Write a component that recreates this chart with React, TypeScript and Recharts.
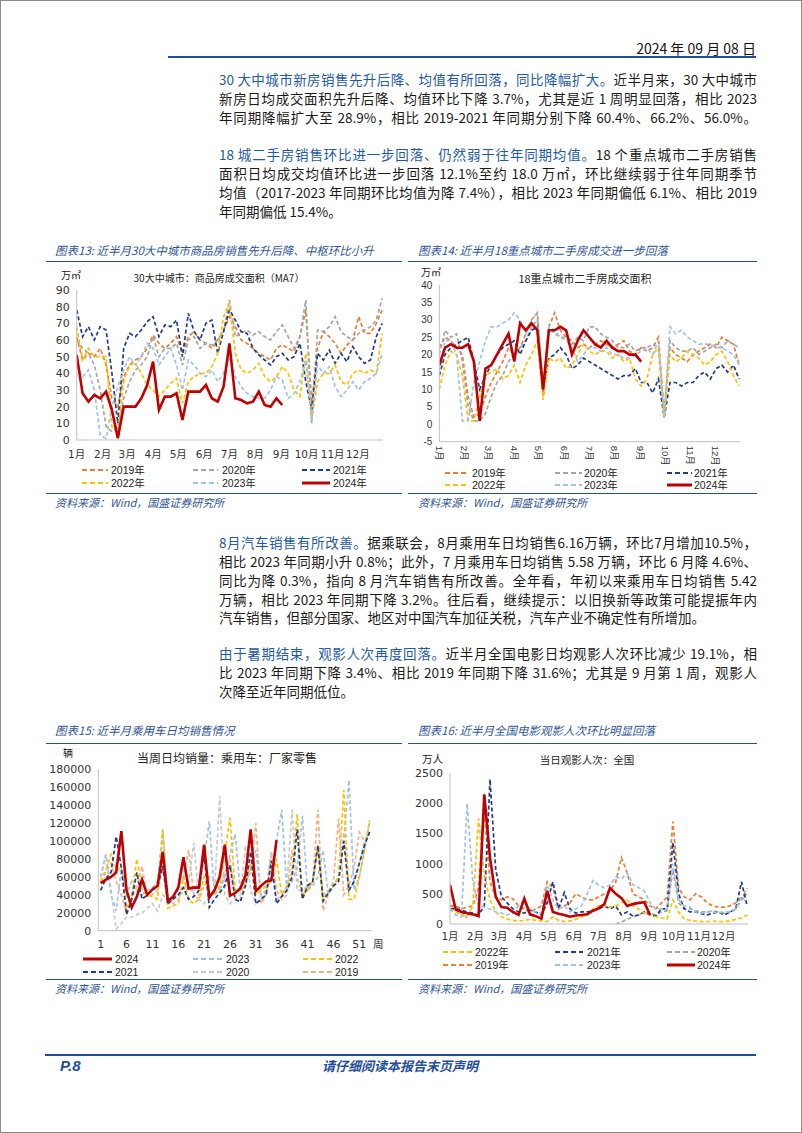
import React from "react";
import { LineChart, Line, XAxis, YAxis } from "recharts";

const CJK = '"Noto Sans CJK SC", "Noto Sans", sans-serif';
const NUM = '"DejaVu Sans", "Noto Sans CJK SC", sans-serif';
const ARIAL = '"Liberation Sans", "Noto Sans CJK SC", sans-serif';
const RULE = "#1F4E9A";
const TITLE_BLUE = "#2F5597";
const LEAD_BLUE = "#1F5AA6";

// ---------- axes ----------
const days = [
  0, 7, 14, 21, 28, 35, 42, 49, 56, 63, 70, 77, 84, 91, 98, 105, 112, 119, 126, 133,
  140, 147, 154, 161, 168, 175, 182, 189, 196, 203, 210, 217, 224, 231, 238, 245, 252,
  259, 266, 273, 280, 287, 294, 301, 308, 315, 322, 329, 336, 343, 350, 357, 364,
];
const weeks = [
  1, 2, 3, 4, 5, 6, 7, 8, 9, 10, 11, 12, 13, 14, 15, 16, 17, 18, 19, 20, 21, 22, 23, 24,
  25, 26, 27, 28, 29, 30, 31, 32, 33, 34, 35, 36, 37, 38, 39, 40, 41, 42, 43, 44, 45, 46,
  47, 48, 49, 50, 51, 52, 53,
];
const monthTicks = [0, 31, 60, 91, 121, 152, 182, 213, 244, 274, 305, 335];
const monthLabels = ["1月", "2月", "3月", "4月", "5月", "6月", "7月", "8月", "9月", "10月", "11月", "12月"];
const weekTicks = [1, 6, 11, 16, 21, 26, 31, 36, 41, 46, 51];

// ---------- 图表13: 30大中城市商品房成交面积 (万㎡, MA7) ----------
const newHome2019 = [62, 48, 52, 50, 55, 45, 25, 20, 38, 45, 48, 50, 55, 63, 58, 55, 58, 62, 52, 62, 65, 60, 58, 55, 60, 66, 74, 68, 60, 58, 55, 52, 50, 48, 55, 57, 55, 53, 62, 78, 22, 55, 65, 62, 58, 52, 57, 60, 74, 64, 64, 70, 78];
const newHome2020 = [60, 55, 52, 45, 30, 8, 5, 8, 25, 35, 42, 45, 50, 62, 50, 55, 55, 58, 45, 60, 62, 55, 58, 57, 60, 65, 84, 62, 64, 66, 63, 65, 62, 60, 65, 69, 62, 55, 62, 84, 10, 66, 65, 68, 74, 65, 62, 60, 64, 66, 68, 72, 85];
const newHome2021 = [78, 62, 68, 60, 68, 66, 40, 10, 55, 64, 62, 66, 71, 74, 62, 69, 68, 72, 50, 76, 65, 60, 70, 72, 52, 65, 78, 72, 65, 64, 55, 51, 48, 45, 50, 52, 48, 50, 58, 35, 18, 52, 48, 54, 46, 52, 47, 56, 50, 46, 48, 62, 70];
const newHome2022 = [68, 48, 55, 50, 50, 50, 8, 5, 35, 45, 46, 40, 33, 30, 26, 30, 34, 37, 22, 35, 38, 40, 40, 44, 52, 74, 82, 52, 42, 40, 42, 46, 38, 35, 38, 44, 40, 30, 26, 52, 12, 35, 40, 40, 45, 35, 33, 40, 42, 40, 42, 40, 64];
const newHome2023 = [45, 38, 42, 30, 3, 1, 20, 32, 42, 50, 45, 50, 58, 55, 45, 50, 55, 45, 30, 48, 45, 40, 38, 42, 35, 40, 50, 38, 32, 28, 26, 25, 25, 30, 38, 36, 25, 28, 35, 48, 12, 45, 40, 44, 32, 26, 30, 35, 30, 35, 37, 40, 52];
const newHome2024 = [51, 28, 23, 27, 25, 29, 18, 1, 20, 20, 20, 25, 33, 47, 18, 26, 26, 28, 12, 29, 29, 29, 33, 25, 23, 32, 58, 25, 24, 22, 23, 29, 21, 20, 25, 21];

// ---------- 图表14: 18重点城市二手房成交面积 (万㎡) ----------
const resale2019 = [22, 25, 24, 22, 20, 8, 2, 3, 8, 12, 15, 18, 22, 20, 22, 26, 30, 32, 8, 28, 32, 27, 25, 24, 22, 23, 22, 23, 24, 23, 22, 23, 24, 21, 20, 22, 21, 22, 25, 3, 22, 20, 19, 18, 20, 21, 22, 23, 22, 25, 24, 23, 17];
const resale2020 = [20, 27, 25, 26, 18, 5, 1, 1, 3, 8, 12, 14, 18, 20, 22, 24, 28, 30, 10, 28, 26, 25, 25, 23, 25, 24, 28, 28, 26, 25, 24, 22, 22, 23, 21, 22, 22, 23, 22, 2, 24, 22, 21, 21, 22, 20, 21, 22, 23, 22, 24, 23, 22];
const resale2021 = [14, 20, 22, 23, 24, 25, 18, 10, 14, 17, 20, 22, 23, 24, 20, 24, 27, 28, 10, 19, 20, 22, 20, 16, 17, 19, 18, 17, 16, 15, 14, 13, 14, 14, 16, 12, 12, 9, 13, 2, 12, 12, 11, 12, 12, 14, 15, 13, 16, 17, 15, 17, 13];
const resale2022 = [10, 17, 21, 20, 14, 1, 1, 8, 14, 15, 16, 13, 14, 17, 12, 17, 20, 24, 7, 19, 18, 19, 16, 17, 20, 23, 21, 20, 21, 21, 19, 20, 18, 19, 13, 11, 13, 20, 22, 2, 20, 18, 19, 21, 20, 19, 17, 18, 20, 21, 18, 14, 11];
const resale2023 = [15, 24, 24, 20, 1, 1, 12, 18, 24, 28, 28, 29, 30, 32, 30, 26, 30, 32, 10, 28, 27, 25, 24, 22, 18, 20, 22, 22, 21, 22, 20, 20, 19, 19, 20, 21, 22, 20, 24, 2, 28, 26, 27, 25, 24, 23, 23, 23, 22, 22, 21, 20, 17];
const resale2024 = [17, 22, 23, 22, 22, 23, 18, 1, 16, 17, 20, 23, 26, 18, 29, 27, 29, 27, 10, 27, 27, 28, 27, 20, 24, 27, 25, 23, 22, 24, 22, 21, 21, 20, 20, 18];

// ---------- 图表15: 当周日均销量: 乘用车: 厂家零售 (千辆) ----------
const car2024 = [53, 57, 60, 65, 111, 45, 26, 38, 57, 40, 46, 50, 88, 33, 38, 48, 82, 47, 48, 48, 96, 37, 45, 60, 96, 39, 42, 47, 62, 113, 44, 50, 55, 56, 101];
const car2023 = [60, 85, 40, 22, 70, 40, 55, 45, 40, 45, 48, 55, 113, 35, 38, 45, 75, 45, 45, 55, 80, 122, 40, 45, 60, 85, 108, 45, 50, 70, 90, 40, 45, 60, 100, 135, 45, 55, 70, 128, 45, 50, 60, 90, 40, 50, 60, 100, 168, 45, 60, 90, 122];
const car2022 = [55, 68, 85, 68, 70, 25, 40, 80, 45, 40, 38, 35, 112, 25, 28, 30, 60, 35, 30, 35, 60, 40, 40, 50, 85, 126, 45, 45, 55, 75, 40, 45, 50, 55, 80, 40, 50, 65, 130, 40, 45, 55, 95, 35, 45, 50, 60, 157, 35, 35, 60, 90, 123];
const car2021 = [45, 58, 65, 105, 70, 18, 35, 65, 35, 40, 45, 50, 72, 30, 35, 40, 48, 35, 38, 45, 85, 26, 35, 42, 50, 73, 35, 32, 50, 88, 30, 35, 40, 78, 30, 38, 45, 60, 113, 35, 50, 55, 95, 33, 42, 50, 55, 100, 45, 55, 75, 95, 110];
const car2020 = [60, 85, 45, 2, 8, 15, 15, 18, 20, 25, 30, 22, 40, 35, 30, 35, 45, 55, 98, 35, 30, 40, 45, 150, 40, 30, 35, 40, 95, 45, 30, 35, 45, 88, 35, 40, 50, 135, 45, 45, 50, 55, 92, 40, 45, 50, 60, 110, 45, 55, 75, 100, 110];
const car2019 = [55, 65, 75, 55, 40, 20, 35, 50, 72, 38, 40, 45, 70, 30, 35, 50, 60, 90, 40, 35, 50, 60, 55, 45, 65, 80, 35, 35, 55, 65, 120, 30, 40, 88, 45, 35, 40, 90, 60, 40, 45, 55, 135, 22, 40, 55, 125, 40, 50, 70, 110, 100];

// ---------- 图表16: 当日观影人次: 全国 (万人) ----------
const movie2022 = [250, 200, 150, 120, 300, 1750, 800, 400, 200, 120, 80, 60, 50, 60, 80, 60, 50, 40, 120, 60, 40, 50, 80, 120, 150, 250, 300, 300, 280, 300, 350, 400, 300, 250, 180, 150, 120, 100, 80, 400, 200, 80, 60, 50, 40, 40, 50, 40, 40, 50, 80, 100, 150];
const movie2021 = [250, 250, 230, 200, 180, 150, 300, 2400, 900, 450, 350, 250, 200, 180, 230, 200, 150, 350, 700, 250, 520, 250, 180, 200, 200, 220, 250, 300, 250, 300, 150, 200, 130, 150, 200, 150, 130, 250, 250, 1350, 500, 250, 200, 200, 170, 150, 180, 200, 150, 200, 250, 700, 300];
const movie2020 = [250, 280, 200, 100, null, null, null, null, null, null, null, null, null, null, null, null, null, null, null, null, null, null, null, null, null, null, null, null, null, 0, 30, 80, 120, 150, 200, 180, 150, 200, 220, 900, 350, 250, 250, 220, 200, 200, 220, 200, 180, 200, 250, 400, 600];
const movie2019 = [300, 300, 250, 280, 300, 600, 1900, 700, 450, 400, 450, 420, 300, 250, 200, 250, 300, 700, 600, 250, 300, 350, 500, 450, 400, 400, 450, 500, 550, 700, 1100, 850, 500, 450, 400, 300, 250, 350, 450, 1700, 600, 450, 400, 500, 450, 350, 300, 280, 280, 300, 350, 450, 500];
const movie2023 = [250, 150, 120, 2000, 700, 300, 280, 250, 200, 180, 150, 180, 300, 400, 250, 200, 180, 650, 400, 250, 300, 200, 250, 300, 500, 720, 650, 600, 650, 780, 750, 850, 650, 600, 550, 350, 250, 250, 250, 1000, 400, 300, 280, 200, 180, 200, 200, 180, 200, 200, 250, 450, 350];
const movie2024 = [650, 240, 200, 180, 160, 130, 2150, 1100, 450, 280, 270, 200, 150, 420, 160, 130, 90, 550, 200, 170, 150, 120, 140, 150, 160, 220, 260, 330, 600, 500, 430, 300, 330, 350, 360, 150];

const v = (arr: (number | null)[], i: number) => (arr[i] === undefined ? null : arr[i]);

const rowsNewHome = days.map((x, i) => ({
  x,
  y2019: v(newHome2019, i), y2020: v(newHome2020, i), y2021: v(newHome2021, i),
  y2022: v(newHome2022, i), y2023: v(newHome2023, i), y2024: v(newHome2024, i),
}));
const rowsResale = days.map((x, i) => ({
  x,
  y2019: v(resale2019, i), y2020: v(resale2020, i), y2021: v(resale2021, i),
  y2022: v(resale2022, i), y2023: v(resale2023, i), y2024: v(resale2024, i),
}));
const rowsCar = weeks.map((x, i) => {
  const k = (a: (number | null)[]) => (v(a, i) === null ? null : (v(a, i) as number) * 1000);
  return { x, y2019: k(car2019), y2020: k(car2020), y2021: k(car2021), y2022: k(car2022), y2023: k(car2023), y2024: k(car2024) };
});
const rowsMovie = days.map((x, i) => ({
  x,
  y2019: v(movie2019, i), y2020: v(movie2020, i), y2021: v(movie2021, i),
  y2022: v(movie2022, i), y2023: v(movie2023, i), y2024: v(movie2024, i),
}));

type Serie = { key: string; label: string; color: string; solid?: boolean };

const yearsStd: Serie[] = [
  { key: "y2019", label: "2019年", color: "#ED7D31" },
  { key: "y2020", label: "2020年", color: "#A5A5A5" },
  { key: "y2021", label: "2021年", color: "#1F3C88" },
  { key: "y2022", label: "2022年", color: "#FFC000" },
  { key: "y2023", label: "2023年", color: "#9DC3E6" },
  { key: "y2024", label: "2024年", color: "#C00000", solid: true },
];
const byKey = (list: Serie[], k: string) => list.find((s) => s.key === k) as Serie;
const yearsCar: Serie[] = [
  { key: "y2019", label: "2019", color: "#F4B183" },
  { key: "y2020", label: "2020", color: "#C9C9C9" },
  { key: "y2023", label: "2023", color: "#9DC3E6" },
  { key: "y2022", label: "2022", color: "#FFC000" },
  { key: "y2021", label: "2021", color: "#1F3C88" },
  { key: "y2024", label: "2024", color: "#C00000", solid: true },
];

const monthName = (val: number) => monthLabels[monthTicks.indexOf(val)] ?? "";

function RotatedMonth(props: any) {
  const { x, y, payload } = props;
  return (
    <text
      transform={`translate(${x},${y}) rotate(90)`}
      textAnchor="start"
      dominantBaseline="central"
      fontSize={9.5}
      fontFamily={ARIAL}
      fill="#333"
    >
      {monthName(payload.value)}
    </text>
  );
}

interface YearChartProps {
  box: [number, number, number, number];
  yWidth: number;
  margin: { top: number; right: number; left: number; bottom: number };
  rows: any[];
  xDomain: [number, number];
  xTicks: number[];
  xFormat?: (n: number) => string;
  xHeight: number;
  xMargin: number;
  xFontSize?: number;
  yDomain: [number, number];
  yTicks: number[];
  series: Serie[];
  font: string;
  fontSize: number;
  rotated?: boolean;
}

function YearChart(p: YearChartProps) {
  const [left, top, width, height] = p.box;
  return (
    <div style={{ position: "absolute", left, top, width, height }}>
      <LineChart width={width} height={height} data={p.rows} margin={p.margin}>
        <XAxis
          type="number"
          dataKey="x"
          domain={p.xDomain}
          ticks={p.xTicks}
          interval={0}
          allowDataOverflow
          height={p.xHeight}
          axisLine={{ stroke: "#BFBFBF" }}
          tickLine={false}
          tickSize={0}
          tickMargin={p.xMargin}
          tickFormatter={p.xFormat}
          tick={p.rotated ? RotatedMonth : { fontSize: p.xFontSize ?? p.fontSize, fill: "#333", fontFamily: p.font }}
        />
        <YAxis
          type="number"
          domain={p.yDomain}
          ticks={p.yTicks}
          interval={0}
          allowDataOverflow
          width={p.yWidth}
          axisLine={{ stroke: "#BFBFBF" }}
          tickLine={false}
          tickSize={0}
          tickMargin={7}
          tick={{ fontSize: p.fontSize, fill: "#333", fontFamily: p.font }}
        />
        {p.series.map((s) => (
          <Line
            key={s.key}
            type="linear"
            dataKey={s.key}
            stroke={s.color}
            strokeWidth={s.solid ? 2.6 : 1.7}
            strokeDasharray={s.solid ? undefined : "4 2.5"}
            dot={false}
            activeDot={false}
            connectNulls={false}
            isAnimationActive={false}
          />
        ))}
      </LineChart>
    </div>
  );
}

function YearLegend({ items, cols, rows }: { items: Serie[]; cols: [number, number, number][]; rows: number[] }) {
  return (
    <>
      {items.map((s, i) => {
        const [x1, x2, tx] = cols[i % 3];
        const y = rows[Math.floor(i / 3)];
        return (
          <React.Fragment key={s.key}>
            <svg style={{ position: "absolute", left: x1, top: y - 3, overflow: "visible" }} width={x2 - x1} height={6}>
              <line
                x1={0}
                y1={3}
                x2={x2 - x1}
                y2={3}
                stroke={s.color}
                strokeWidth={s.solid ? 3 : 2}
                strokeDasharray={s.solid ? undefined : "5 3"}
              />
            </svg>
            <div style={{ position: "absolute", left: tx, top: y - 7, fontSize: 10.5, lineHeight: "14px", fontFamily: ARIAL, color: "#222", whiteSpace: "nowrap" }}>
              {s.label}
            </div>
          </React.Fragment>
        );
      })}
    </>
  );
}

const Abs = ({ left, top, style, children }: { left: number; top: number; style?: React.CSSProperties; children: React.ReactNode }) => (
  <div style={{ position: "absolute", left, top, whiteSpace: "nowrap", ...style }}>{children}</div>
);

const Rule = ({ x1, x2, y, h = 1.4 }: { x1: number; x2: number; y: number; h?: number }) => (
  <div style={{ position: "absolute", left: x1, top: y - h / 2, width: x2 - x1, height: h, background: RULE }} />
);

function BodyLine({ top, last, children }: { top: number; last?: boolean; children: React.ReactNode }) {
  return (
    <div
      style={{
        position: "absolute",
        left: 219,
        top,
        width: 538,
        height: 19,
        lineHeight: "19px",
        fontSize: 13.5,
        color: "#1a1a1a",
        textAlign: last ? "left" : "justify",
        textAlignLast: last ? "left" : "justify",
        overflow: "visible",
      }}
    >
      {children}
    </div>
  );
}

const Lead = ({ children }: { children: React.ReactNode }) => <span style={{ color: LEAD_BLUE }}>{children}</span>;

const figTitle: React.CSSProperties = { fontSize: 11.5, lineHeight: "14px", fontStyle: "italic", color: TITLE_BLUE };
const sourceStyle: React.CSSProperties = { fontSize: 11, lineHeight: "14px", fontStyle: "italic", color: TITLE_BLUE };
const unitStyle: React.CSSProperties = { fontSize: 10, lineHeight: "12px", color: "#222" };

function InnerTitle({ cx, y, size, children }: { cx: number; y: number; size: number; children: React.ReactNode }) {
  return (
    <div style={{ position: "absolute", left: cx - 150, width: 300, top: y - 8, lineHeight: "16px", textAlign: "center", fontSize: size, color: "#222", whiteSpace: "nowrap" }}>
      {children}
    </div>
  );
}

export default function App() {
  const legend13 = ["y2019", "y2020", "y2021", "y2022", "y2023", "y2024"].map((k) => byKey(yearsStd, k));
  const legend15 = ["y2024", "y2023", "y2022", "y2021", "y2020", "y2019"].map((k) => byKey(yearsCar, k));
  const legend16 = ["y2022", "y2021", "y2020", "y2019", "y2023", "y2024"].map((k) => byKey(yearsStd, k));

  return (
    <div style={{ position: "absolute", left: 0, top: 0, width: 802, height: 1133, background: "#fff", overflow: "hidden", fontFamily: CJK }}>
      {/* header */}
      <div style={{ position: "absolute", right: 46, top: 39, fontSize: 14, lineHeight: "18px", color: "#111", whiteSpace: "nowrap" }}>
        2024 年 09 月 08 日
      </div>
      <Rule x1={168} x2={756} y={57} h={1.6} />

      {/* paragraph 1 */}
      <BodyLine top={69.5}>
        <Lead>30 大中城市新房销售先升后降、均值有所回落，同比降幅扩大。</Lead>近半月来，30 大中城市
      </BodyLine>
      <BodyLine top={88.5}>新房日均成交面积先升后降、均值环比下降 3.7%，尤其是近 1 周明显回落，相比 2023</BodyLine>
      <BodyLine top={107.5}>年同期降幅扩大至 28.9%，相比 2019-2021 年同期分别下降 60.4%、66.2%、56.0%。</BodyLine>

      {/* paragraph 2 */}
      <BodyLine top={144.5}>
        <Lead>18 城二手房销售环比进一步回落、仍然弱于往年同期均值。</Lead>18 个重点城市二手房销售
      </BodyLine>
      <BodyLine top={163.5}>面积日均成交均值环比进一步回落 12.1%至约 18.0 万㎡，环比继续弱于往年同期季节</BodyLine>
      <BodyLine top={182.5}>均值（2017-2023 年同期环比均值为降 7.4%），相比 2023 年同期偏低 6.1%、相比 2019</BodyLine>
      <BodyLine top={201.5} last>年同期偏低 15.4%。</BodyLine>

      {/* figure 13 */}
      <Abs left={55} top={243} style={figTitle}>图表13: 近半月30大中城市商品房销售先升后降、中枢环比小升</Abs>
      <Rule x1={46} x2={402} y={261.5} />
      <Abs left={61} top={269} style={unitStyle}>万㎡</Abs>
      <InnerTitle cx={219} y={278} size={10}>30大中城市：商品房成交面积（MA7）</InnerTitle>
      <YearChart
        box={[38, 280, 352, 190]}
        yWidth={38.7}
        margin={{ top: 10, right: 7, left: 0, bottom: 0 }}
        rows={rowsNewHome}
        xDomain={[0, 365]}
        xTicks={monthTicks}
        xFormat={monthName}
        xHeight={30}
        xMargin={11}
        xFontSize={10.5}
        yDomain={[0, 90]}
        yTicks={[0, 10, 20, 30, 40, 50, 60, 70, 80, 90]}
        series={yearsStd}
        font={NUM}
        fontSize={11}
      />
      <YearLegend items={legend13} cols={[[82, 108, 111], [193, 218, 222], [302, 330, 333]]} rows={[470, 483.3]} />
      <Rule x1={46} x2={402} y={493.3} />
      <Abs left={55} top={495} style={sourceStyle}>资料来源：Wind，国盛证券研究所</Abs>

      {/* figure 14 */}
      <Abs left={418} top={243} style={figTitle}>图表14: 近半月18重点城市二手房成交进一步回落</Abs>
      <Rule x1={408} x2={757} y={261.5} />
      <Abs left={421} top={266} style={unitStyle}>万㎡</Abs>
      <InnerTitle cx={585} y={278} size={11}>18重点城市二手房成交面积</InnerTitle>
      <YearChart
        box={[405, 275, 340, 197]}
        yWidth={34.3}
        margin={{ top: 10, right: 5, left: 0, bottom: 0 }}
        rows={rowsResale}
        xDomain={[0, 365]}
        xTicks={monthTicks}
        xHeight={30.3}
        xMargin={4}
        yDomain={[-5, 40]}
        yTicks={[-5, 0, 5, 10, 15, 20, 25, 30, 35, 40]}
        series={yearsStd}
        font={ARIAL}
        fontSize={10}
        rotated
      />
      <YearLegend items={legend13} cols={[[445, 468, 472], [555, 582, 584], [667, 692, 694]]} rows={[472.7, 485]} />
      <Rule x1={408} x2={757} y={493.3} />
      <Abs left={418} top={495} style={sourceStyle}>资料来源：Wind，国盛证券研究所</Abs>

      {/* paragraph 3 */}
      <BodyLine top={533}>
        <Lead>8月汽车销售有所改善。</Lead>据乘联会，8月乘用车日均销售6.16万辆，环比7月增加10.5%，
      </BodyLine>
      <BodyLine top={552}>相比 2023 年同期小升 0.8%；此外，7 月乘用车日均销售 5.58 万辆，环比 6 月降 4.6%、</BodyLine>
      <BodyLine top={571}>同比为降 0.3%，指向 8 月汽车销售有所改善。全年看，年初以来乘用车日均销售 5.42</BodyLine>
      <BodyLine top={589.5}>万辆，相比 2023 年同期下降 3.2%。往后看，继续提示：以旧换新等政策可能提振年内</BodyLine>
      <BodyLine top={608} last>汽车销售，但部分国家、地区对中国汽车加征关税，汽车产业不确定性有所增加。</BodyLine>

      {/* paragraph 4 */}
      <BodyLine top={644}>
        <Lead>由于暑期结束，观影人次再度回落。</Lead>近半月全国电影日均观影人次环比减少 19.1%，相
      </BodyLine>
      <BodyLine top={663}>比 2023 年同期下降 3.4%、相比 2019 年同期下降 31.6%；尤其是 9 月第 1 周，观影人</BodyLine>
      <BodyLine top={682} last>次降至近年同期低位。</BodyLine>

      {/* figure 15 */}
      <Abs left={55} top={723} style={figTitle}>图表15: 近半月乘用车日均销售情况</Abs>
      <Rule x1={46} x2={402} y={743.3} />
      <Abs left={63} top={747} style={unitStyle}>辆</Abs>
      <InnerTitle cx={227} y={758} size={12}>当周日均销量：乘用车：厂家零售</InnerTitle>
      <YearChart
        box={[40, 760, 340, 201]}
        yWidth={58.3}
        margin={{ top: 9.3, right: 8.3, left: 0, bottom: 0 }}
        rows={rowsCar}
        xDomain={[0.54, 53.4]}
        xTicks={weekTicks}
        xHeight={30.3}
        xMargin={9.6}
        yDomain={[0, 180000]}
        yTicks={[0, 20000, 40000, 60000, 80000, 100000, 120000, 140000, 160000, 180000]}
        series={yearsCar}
        font={NUM}
        fontSize={11}
      />
      <Abs left={373} top={937} style={{ fontSize: 10.5, lineHeight: "14px", color: "#333" }}>周</Abs>
      <YearLegend items={legend15} cols={[[83, 112, 115], [193, 223, 226], [303, 332, 335]]} rows={[959.3, 971.7]} />
      <Rule x1={46} x2={402} y={979.5} />
      <Abs left={55} top={981} style={sourceStyle}>资料来源：Wind，国盛证券研究所</Abs>

      {/* figure 16 */}
      <Abs left={418} top={723} style={figTitle}>图表16: 近半月全国电影观影人次环比明显回落</Abs>
      <Rule x1={408} x2={757} y={743.3} />
      <Abs left={422} top={753} style={{ ...unitStyle, fontSize: 10.5 }}>万人</Abs>
      <InnerTitle cx={587} y={760} size={10.5}>当日观影人次：全国</InnerTitle>
      <YearChart
        box={[405, 765, 348, 189]}
        yWidth={45}
        margin={{ top: 8.3, right: 5, left: 0, bottom: 0 }}
        rows={rowsMovie}
        xDomain={[0, 365]}
        xTicks={monthTicks}
        xFormat={monthName}
        xHeight={30}
        xMargin={8.7}
        xFontSize={10.5}
        yDomain={[0, 2500]}
        yTicks={[0, 500, 1000, 1500, 2000, 2500]}
        series={yearsStd}
        font={NUM}
        fontSize={11}
      />
      <YearLegend items={legend16} cols={[[443, 472, 475], [555, 583, 587], [667, 695, 697]]} rows={[952.3, 965]} />
      <Rule x1={408} x2={757} y={979.5} />
      <Abs left={418} top={981} style={sourceStyle}>资料来源：Wind，国盛证券研究所</Abs>

      {/* footer */}
      <Rule x1={45} x2={756} y={1055} h={1.6} />
      <Abs left={60} top={1057} style={{ fontSize: 15, lineHeight: "18px", fontWeight: 700, fontStyle: "italic", color: RULE, fontFamily: ARIAL }}>
        P.8
      </Abs>
      <div style={{ position: "absolute", left: 250, width: 300, top: 1058, textAlign: "center", fontSize: 13, lineHeight: "16px", fontWeight: 700, fontStyle: "italic", color: RULE }}>
        请仔细阅读本报告末页声明
      </div>

      {/* page border */}
      <div style={{ position: "absolute", left: 0, top: 0, width: 802, height: 1133, boxSizing: "border-box", border: "1px solid #8c8c8c", pointerEvents: "none" }} />
    </div>
  );
}
